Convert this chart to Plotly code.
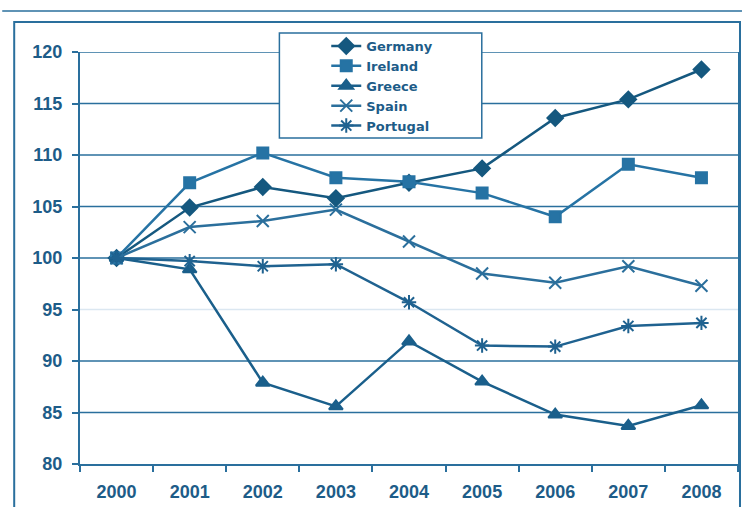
import plotly.graph_objects as go

years = ["2000", "2001", "2002", "2003", "2004", "2005", "2006", "2007", "2008"]
germany = [100, 104.9, 106.9, 105.8, 107.3, 108.7, 113.6, 115.4, 118.3]
ireland = [100, 107.3, 110.2, 107.8, 107.4, 106.3, 104.0, 109.1, 107.8]
greece = [100, 98.9, 87.9, 85.6, 91.9, 88.0, 84.8, 83.7, 85.7]
spain = [100, 103.0, 103.6, 104.7, 101.6, 98.5, 97.6, 99.2, 97.3]
portugal = [100, 99.7, 99.2, 99.4, 95.7, 91.5, 91.4, 93.4, 93.7]

y_ticks = [80, 85, 90, 95, 100, 105, 110, 115, 120]
grid_dark = [85, 90, 100, 105, 110, 115, 120]
grid_light = [95]

BLUE = "#2a6f9d"
TEXT = "#1d5c88"

series = [
    ("Germany", germany, "diamond", 12, "#15587f"),
    ("Ireland", ireland, "square", 11, "#2673a4"),
    ("Greece", greece, "triangle-up", 12, "#1a5f8b"),
    ("Spain", spain, "x-thin-open", 12, "#2b6f9c"),
    ("Portugal", portugal, "asterisk-open", 12, "#1f6290"),
]

fig = go.Figure()
for name, vals, sym, size, col in series:
    fig.add_trace(go.Scatter(
        x=years, y=vals, name=name, mode="lines+markers",
        line=dict(color=col, width=2.5),
        marker=dict(symbol=sym, size=size, color=col,
                    line=dict(color=col, width=2)),
    ))

shapes = []
for g in grid_dark:
    shapes.append(dict(type="line", xref="paper", yref="y", x0=0, x1=1, y0=g, y1=g,
                       line=dict(color=BLUE, width=1.5), layer="below"))
for g in grid_light:
    shapes.append(dict(type="line", xref="paper", yref="y", x0=0, x1=1, y0=g, y1=g,
                       line=dict(color="#dbe7f1", width=1.5), layer="below"))

# page decorations (pixel -> paper conversions for plot area 80..740 x 52..464)
def px(x):
    return (x - 80) / 660.0

def py(y):
    return 1 - (y - 52) / 412.0

shapes.append(dict(type="line", xref="paper", yref="paper", x0=px(2), x1=px(744),
                   y0=py(11), y1=py(11), line=dict(color=BLUE, width=1.5)))
shapes.append(dict(type="rect", xref="paper", yref="paper", x0=px(14), x1=px(742),
                   y0=py(22), y1=py(530), line=dict(color=BLUE, width=2)))
shapes.append(dict(type="rect", xref="paper", yref="paper", x0=px(280), x1=px(483),
                   y0=py(33), y1=py(138), fillcolor="white",
                   line=dict(color=BLUE, width=1.5), layer="above"))

fig.update_layout(
    width=744, height=507,
    margin=dict(l=80, r=4, t=52, b=43),
    paper_bgcolor="white", plot_bgcolor="white",
    font=dict(family="Liberation Sans, Arial, sans-serif", color=TEXT),
    shapes=shapes,
    showlegend=True,
    legend=dict(x=px(327), y=py(31), xanchor="left", yanchor="top",
                bgcolor="rgba(0,0,0,0)", borderwidth=0,
                font=dict(family="DejaVu Sans", size=13, color=TEXT, weight="bold"),
                tracegroupgap=0, itemwidth=30),
    xaxis=dict(type="category", tickson="boundaries", ticks="outside", ticklen=6,
               tickcolor=BLUE, tickwidth=1.5, showgrid=False,
               showline=True, linecolor=BLUE, linewidth=2, ticklabelstandoff=10,
               tickfont=dict(size=18, color=TEXT, weight="bold"), range=[-0.5, 8.5]),
    yaxis=dict(range=[80, 120], tickvals=y_ticks, ticks="outside", ticklen=6,
               tickcolor=BLUE, tickwidth=1.5, showgrid=False, zeroline=False,
               showline=True, linecolor=BLUE, linewidth=2, mirror=True,
               ticklabelstandoff=6,
               tickfont=dict(size=18, color=TEXT, weight="bold")),
)

fig.write_html("out.html")
